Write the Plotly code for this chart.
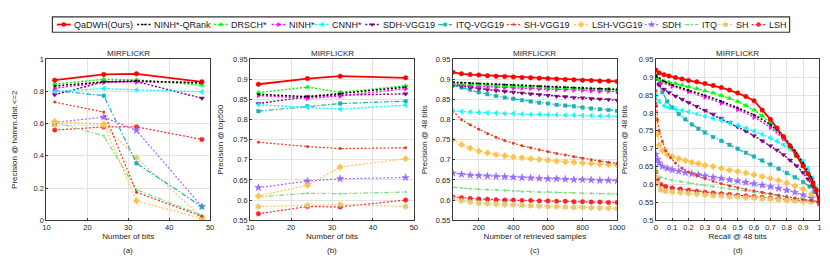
import plotly.graph_objects as go

# ---------------- DATA ----------------
METHODS = ["QaDWH(Ours)", "NINH*-QRank", "DRSCH*", "NINH*", "CNNH*", "SDH-VGG19",
           "ITQ-VGG19", "SH-VGG19", "LSH-VGG19", "SDH", "ITQ", "SH", "LSH"]

BITS = [12, 24, 32, 48]

# (a) Precision @ hamming dist <= 2
PREC_HAMM2 = {
    "QaDWH(Ours)": [0.870, 0.906, 0.910, 0.860],
    "NINH*-QRank": [0.834, 0.860, 0.866, 0.852],
    "DRSCH*":      [0.846, 0.876, 0.872, 0.840],
    "NINH*":       [0.820, 0.858, 0.860, 0.856],
    "CNNH*":       [0.800, 0.818, 0.810, 0.798],
    "SDH-VGG19":   [0.780, 0.860, 0.862, 0.758],
    "ITQ-VGG19":   [0.806, 0.774, 0.354, 0.084],
    "SH-VGG19":    [0.734, 0.672, 0.174, 0.024],
    "LSH-VGG19":   [0.612, 0.598, 0.120, 0.010],
    "SDH":         [0.608, 0.640, 0.558, 0.084],
    "ITQ":         [0.610, 0.524, 0.190, 0.030],
    "SH":          [0.590, 0.590, 0.388, 0.018],
    "LSH":         [0.560, 0.580, 0.580, 0.502],
}

# (b) Precision @ top500
PREC_TOP500 = {
    "QaDWH(Ours)": [0.888, 0.902, 0.908, 0.904],
    "NINH*-QRank": [0.863, 0.857, 0.865, 0.881],
    "DRSCH*":      [0.867, 0.881, 0.868, 0.884],
    "NINH*":       [0.860, 0.853, 0.859, 0.877],
    "CNNH*":       [0.837, 0.831, 0.826, 0.836],
    "SDH-VGG19":   [0.840, 0.857, 0.861, 0.864],
    "ITQ-VGG19":   [0.821, 0.833, 0.840, 0.846],
    "SH-VGG19":    [0.744, 0.733, 0.728, 0.730],
    "LSH-VGG19":   [0.610, 0.637, 0.682, 0.703],
    "SDH":         [0.631, 0.647, 0.653, 0.656],
    "ITQ":         [0.608, 0.617, 0.616, 0.620],
    "SH":          [0.584, 0.587, 0.589, 0.584],
    "LSH":         [0.566, 0.584, 0.583, 0.600],
}

# (c) Precision @ 48 bits vs number of retrieved samples
RETRIEVED = [50, 100, 150, 200, 250, 300, 350, 400, 450, 500,
             550, 600, 650, 700, 750, 800, 850, 900, 950, 1000]
PREC_RETRIEVED = {
    "QaDWH(Ours)": [0.918, 0.914, 0.912, 0.911, 0.909, 0.908, 0.907, 0.906, 0.905, 0.904,
                    0.903, 0.902, 0.901, 0.900, 0.899, 0.898, 0.897, 0.896, 0.896, 0.895],
    "NINH*-QRank": [0.893, 0.892, 0.891, 0.890, 0.889, 0.888, 0.887, 0.886, 0.885, 0.884,
                    0.883, 0.882, 0.881, 0.880, 0.879, 0.878, 0.877, 0.877, 0.876, 0.875],
    "DRSCH*":      [0.890, 0.889, 0.888, 0.887, 0.886, 0.885, 0.884, 0.884, 0.883, 0.882,
                    0.881, 0.880, 0.880, 0.879, 0.878, 0.878, 0.877, 0.876, 0.876, 0.875],
    "NINH*":       [0.888, 0.886, 0.884, 0.883, 0.882, 0.881, 0.880, 0.879, 0.879, 0.878,
                    0.877, 0.876, 0.875, 0.875, 0.874, 0.873, 0.872, 0.871, 0.871, 0.870],
    "CNNH*":       [0.822, 0.820, 0.819, 0.818, 0.817, 0.816, 0.815, 0.815, 0.814, 0.813,
                    0.813, 0.812, 0.812, 0.811, 0.811, 0.810, 0.810, 0.809, 0.809, 0.808],
    "SDH-VGG19":   [0.886, 0.883, 0.880, 0.877, 0.874, 0.872, 0.870, 0.868, 0.866, 0.864,
                    0.862, 0.860, 0.858, 0.857, 0.855, 0.854, 0.852, 0.851, 0.850, 0.848],
    "ITQ-VGG19":   [0.885, 0.880, 0.874, 0.868, 0.863, 0.859, 0.855, 0.852, 0.848, 0.845,
                    0.842, 0.840, 0.837, 0.835, 0.833, 0.830, 0.828, 0.826, 0.824, 0.822],
    "SH-VGG19":    [0.822, 0.800, 0.787, 0.776, 0.765, 0.756, 0.748, 0.741, 0.735, 0.730,
                    0.725, 0.720, 0.716, 0.712, 0.708, 0.704, 0.700, 0.697, 0.694, 0.691],
    "LSH-VGG19":   [0.750, 0.738, 0.729, 0.722, 0.717, 0.713, 0.710, 0.707, 0.705, 0.703,
                    0.701, 0.699, 0.697, 0.695, 0.694, 0.692, 0.691, 0.689, 0.688, 0.687],
    "SDH":         [0.667, 0.664, 0.662, 0.661, 0.660, 0.659, 0.658, 0.657, 0.656, 0.655,
                    0.654, 0.653, 0.653, 0.652, 0.651, 0.651, 0.650, 0.649, 0.649, 0.648],
    "ITQ":         [0.632, 0.630, 0.628, 0.627, 0.626, 0.625, 0.624, 0.622, 0.621, 0.621,
                    0.620, 0.620, 0.619, 0.618, 0.618, 0.617, 0.617, 0.616, 0.616, 0.615],
    "SH":          [0.603, 0.598, 0.595, 0.592, 0.591, 0.590, 0.589, 0.588, 0.587, 0.586,
                    0.585, 0.584, 0.584, 0.583, 0.582, 0.582, 0.581, 0.580, 0.580, 0.579],
    "LSH":         [0.608, 0.606, 0.604, 0.603, 0.602, 0.601, 0.600, 0.600, 0.599, 0.599,
                    0.598, 0.598, 0.597, 0.597, 0.596, 0.596, 0.595, 0.595, 0.594, 0.594],
}

# (d) Precision-recall @ 48 bits
R_TOP = [0, 0.02, 0.05, 0.08, 0.12, 0.16, 0.2, 0.25, 0.3, 0.35, 0.4, 0.45, 0.5,
         0.55, 0.6, 0.65, 0.7, 0.74, 0.78, 0.82, 0.86, 0.9, 0.93, 0.96, 0.98, 1.0]
R_ITQV = [0, 0.02, 0.04, 0.07, 0.1, 0.14, 0.18, 0.22, 0.26, 0.3, 0.35, 0.4, 0.45,
          0.5, 0.55, 0.6, 0.65, 0.7, 0.75, 0.8, 0.85, 0.9, 0.94, 0.97, 1.0]
R_SHV = [0, 0.005, 0.01, 0.02, 0.04, 0.06, 0.09, 0.12, 0.16, 0.2, 0.25, 0.3, 0.35,
         0.4, 0.45, 0.5, 0.55, 0.6, 0.65, 0.7, 0.75, 0.8, 0.85, 0.9, 0.95, 1.0]
R_LOW = [0, 0.01, 0.02, 0.04, 0.07, 0.1, 0.14, 0.18, 0.22, 0.26, 0.3, 0.35, 0.4,
         0.45, 0.5, 0.55, 0.6, 0.65, 0.7, 0.75, 0.8, 0.85, 0.9, 0.95, 1.0]
R_BASE = [0, 0.01, 0.03, 0.06, 0.1, 0.15, 0.2, 0.25, 0.3, 0.35, 0.4, 0.45, 0.5,
          0.55, 0.6, 0.65, 0.7, 0.75, 0.8, 0.85, 0.9, 0.95, 1.0]
R_QR = [0, 0.05, 0.1, 0.2, 0.3, 0.4, 0.5, 0.6, 0.7, 0.78, 0.85, 0.9, 0.95, 1.0]
R_NINH = [0, 0.03, 0.1, 0.2, 0.3, 0.4, 0.5, 0.6, 0.7, 0.78, 0.85, 0.9, 0.95, 1.0]

PR_RECALL = {
    "QaDWH(Ours)": R_TOP, "NINH*-QRank": R_QR, "DRSCH*": R_TOP, "NINH*": R_NINH,
    "CNNH*": R_TOP, "SDH-VGG19": R_TOP, "ITQ-VGG19": R_ITQV, "SH-VGG19": R_SHV,
    "LSH-VGG19": R_LOW, "SDH": R_LOW, "ITQ": R_BASE, "SH": R_BASE, "LSH": R_BASE,
}
PR_PRECISION = {
    "QaDWH(Ours)": [0.920, 0.912, 0.907, 0.903, 0.899, 0.895, 0.891, 0.887, 0.882, 0.877,
                    0.871, 0.864, 0.856, 0.846, 0.834, 0.808, 0.782, 0.758, 0.734, 0.708,
                    0.681, 0.652, 0.630, 0.605, 0.585, 0.552],
    "NINH*-QRank": [0.905, 0.888, 0.878, 0.864, 0.849, 0.833, 0.815, 0.795, 0.768, 0.735,
                    0.695, 0.660, 0.620, 0.550],
    "DRSCH*":      [0.898, 0.893, 0.889, 0.886, 0.882, 0.878, 0.873, 0.868, 0.862, 0.856,
                    0.849, 0.841, 0.832, 0.821, 0.808, 0.792, 0.772, 0.752, 0.730, 0.705,
                    0.679, 0.650, 0.628, 0.603, 0.583, 0.550],
    "NINH*":       [0.900, 0.885, 0.875, 0.860, 0.845, 0.828, 0.810, 0.788, 0.760, 0.728,
                    0.690, 0.655, 0.615, 0.548],
    "CNNH*":       [0.848, 0.832, 0.820, 0.815, 0.811, 0.807, 0.803, 0.797, 0.791, 0.785,
                    0.779, 0.772, 0.765, 0.757, 0.749, 0.740, 0.730, 0.721, 0.711, 0.699,
                    0.684, 0.665, 0.645, 0.618, 0.590, 0.550],
    "SDH-VGG19":   [0.895, 0.878, 0.866, 0.857, 0.847, 0.838, 0.829, 0.818, 0.807, 0.796,
                    0.785, 0.773, 0.761, 0.749, 0.736, 0.722, 0.708, 0.696, 0.683, 0.668,
                    0.652, 0.633, 0.615, 0.595, 0.578, 0.547],
    "ITQ-VGG19":   [0.905, 0.880, 0.858, 0.832, 0.815, 0.797, 0.782, 0.768, 0.756, 0.745,
                    0.733, 0.722, 0.711, 0.700, 0.689, 0.678, 0.667, 0.656, 0.644, 0.632,
                    0.620, 0.607, 0.594, 0.580, 0.548],
    "SH-VGG19":    [0.862, 0.820, 0.780, 0.750, 0.720, 0.695, 0.675, 0.660, 0.645, 0.635,
                    0.625, 0.616, 0.609, 0.602, 0.596, 0.591, 0.586, 0.582, 0.578, 0.574,
                    0.570, 0.566, 0.562, 0.558, 0.555, 0.550],
    "LSH-VGG19":   [0.783, 0.740, 0.710, 0.695, 0.684, 0.678, 0.672, 0.667, 0.662, 0.658,
                    0.654, 0.650, 0.645, 0.640, 0.636, 0.632, 0.627, 0.622, 0.617, 0.611,
                    0.604, 0.596, 0.587, 0.573, 0.555],
    "SDH":         [0.684, 0.670, 0.660, 0.650, 0.645, 0.641, 0.637, 0.633, 0.630, 0.627,
                    0.624, 0.620, 0.617, 0.613, 0.610, 0.606, 0.602, 0.598, 0.594, 0.589,
                    0.584, 0.578, 0.571, 0.562, 0.548],
    "ITQ":         [0.653, 0.635, 0.620, 0.616, 0.612, 0.608, 0.604, 0.600, 0.597, 0.594,
                    0.591, 0.588, 0.585, 0.582, 0.579, 0.576, 0.573, 0.570, 0.567, 0.563,
                    0.559, 0.555, 0.550],
    "SH":          [0.622, 0.600, 0.585, 0.581, 0.579, 0.577, 0.575, 0.573, 0.571, 0.569,
                    0.568, 0.566, 0.565, 0.563, 0.562, 0.560, 0.559, 0.557, 0.556, 0.554,
                    0.553, 0.551, 0.549],
    "LSH":         [0.635, 0.615, 0.600, 0.594, 0.590, 0.587, 0.584, 0.581, 0.578, 0.576,
                    0.574, 0.572, 0.570, 0.568, 0.566, 0.564, 0.562, 0.560, 0.558, 0.556,
                    0.554, 0.552, 0.550],
}

# ---------------- STYLE ----------------
DOT = "2px,1.8px"
DASHDOT = "5px,2px,1.5px,2px"
STYLE = {
    "QaDWH(Ours)": dict(color="#ff0000", dash="solid", symbol="circle", size=4.5, width=1.8),
    "NINH*-QRank": dict(color="#000000", dash=DOT, symbol="circle", size=1.5, width=1.5),
    "DRSCH*":      dict(color="#00ff00", dash=DOT, symbol="triangle-up", size=4.5, width=1.4),
    "NINH*":       dict(color="#ff00ff", dash=DOT, symbol="triangle-right", size=4.5, width=1.4),
    "CNNH*":       dict(color="#00ffff", dash=DOT, symbol="triangle-left", size=4.5, width=1.4),
    "SDH-VGG19":   dict(color="#7f007f", dash=DOT, symbol="triangle-down", size=4.5, width=1.4),
    "ITQ-VGG19":   dict(color="#17b3b3", dash=DASHDOT, symbol="square", size=3.5, width=1.2),
    "SH-VGG19":    dict(color="#e23a1e", dash=DOT, symbol="circle", size=2.5, width=1.2),
    "LSH-VGG19":   dict(color="#ffc34d", dash=DOT, symbol="diamond", size=5, width=1.2),
    "SDH":         dict(color="#9b6bff", dash=DOT, symbol="star", size=5.5, width=1.2),
    "ITQ":         dict(color="#80dc80", dash=DASHDOT, symbol="circle", size=2, width=1.2),
    "SH":          dict(color="#e6c86e", dash=DOT, symbol="hexagram", size=5, width=1.2),
    "LSH":         dict(color="#ff2222", dash=DOT, symbol="circle", size=4.5, width=1.2),
}

FONT = "Liberation Sans, Arial, Helvetica, sans-serif"
TXT = "#262626"
W, H = 830, 259

# plot boxes in pixels (left, right); shared top/bottom
BOXES = [(35.0, 201.0), (241.7, 407.7), (447.3, 614.0), (653.3, 819.3)]
YSTANDOFF = [14, 8, 6, 9]
TOP, BOT = 49.0, 215.7

PANEL_DATA = [
    (lambda m: BITS, PREC_HAMM2),
    (lambda m: BITS, PREC_TOP500),
    (lambda m: RETRIEVED, PREC_RETRIEVED),
    (lambda m: PR_RECALL[m], PR_PRECISION),
]

fig = go.Figure()

for i, (xget, ydict) in enumerate(PANEL_DATA):
    sfx = "" if i == 0 else str(i + 1)
    for m in reversed(METHODS):
        s = STYLE[m]
        fig.add_trace(go.Scatter(
            x=xget(m), y=ydict[m], mode="lines+markers", name=m, showlegend=False,
            xaxis="x" + sfx, yaxis="y" + sfx,
            line=dict(color=s["color"], dash=s["dash"], width=s["width"]),
            marker=dict(symbol=s["symbol"], size=s["size"], color=s["color"],
                        line=dict(color=s["color"], width=0.5)),
        ))

axis_common = dict(
    showgrid=True, gridcolor="#e3e3e3", gridwidth=1, zeroline=False,
    showline=True, linecolor="#3a3a3a", linewidth=1, mirror=True,
    ticks="inside", ticklen=2, tickcolor="#3a3a3a",
    tickfont=dict(size=7.5, color=TXT, family=FONT),
    fixedrange=True,
)
ydom = [1 - BOT / H, 1 - TOP / H]

XCONF = [
    dict(range=[10, 50], tickvals=[10, 20, 30, 40, 50], title="Number of bits"),
    dict(range=[10, 50], tickvals=[10, 20, 30, 40, 50], title="Number of bits"),
    dict(range=[50, 1000], tickvals=[200, 400, 600, 800, 1000], title="Number of retrieved samples"),
    dict(range=[0, 1], tickvals=[0, 0.1, 0.2, 0.3, 0.4, 0.5, 0.6, 0.7, 0.8, 0.9, 1],
         title="Recall @ 48 bits"),
]
YCONF = [
    dict(range=[0, 1], tickvals=[0, 0.2, 0.4, 0.6, 0.8, 1], title="Precision @ hamm.dist.<=2"),
    dict(range=[0.55, 0.95], tickvals=[0.55, 0.6, 0.65, 0.7, 0.75, 0.8, 0.85, 0.9, 0.95],
         title="Precision @ top500"),
    dict(range=[0.55, 0.95], tickvals=[0.55, 0.6, 0.65, 0.7, 0.75, 0.8, 0.85, 0.9, 0.95],
         title="Precision @ 48 bits"),
    dict(range=[0.5, 0.95], tickvals=[0.5, 0.55, 0.6, 0.65, 0.7, 0.75, 0.8, 0.85, 0.9, 0.95],
         title="Precision @ 48 bits"),
]

layout = dict(
    width=W, height=H, margin=dict(l=0, r=0, t=0, b=0),
    paper_bgcolor="white", plot_bgcolor="rgba(0,0,0,0)", showlegend=False,
    font=dict(family=FONT, color=TXT),
)
annotations = []
shapes = []
CAPS = ["(a)", "(b)", "(c)", "(d)"]
for i in range(4):
    sfx = "" if i == 0 else str(i + 1)
    l, r = BOXES[i]
    xc, yc = XCONF[i], YCONF[i]
    layout["xaxis" + sfx] = dict(
        axis_common, domain=[l / W, r / W], anchor="y" + sfx, range=xc["range"],
        tickvals=xc["tickvals"],
        title=dict(text=xc["title"], font=dict(size=8, color=TXT, family=FONT), standoff=2),
    )
    layout["yaxis" + sfx] = dict(
        axis_common, domain=ydom, anchor="x" + sfx, range=yc["range"],
        tickvals=yc["tickvals"],
        title=dict(text=yc["title"], font=dict(size=8, color=TXT, family=FONT),
                   standoff=YSTANDOFF[i]),
    )
    cx = (l + r) / 2 / W
    annotations.append(dict(text="MIRFLICKR", x=cx, y=1 - 43 / H, xref="paper", yref="paper",
                            showarrow=False, xanchor="center", yanchor="middle",
                            font=dict(size=8, color=TXT, family=FONT)))
    annotations.append(dict(text=CAPS[i], x=cx, y=1 - 247 / H, xref="paper", yref="paper",
                            showarrow=False, xanchor="center", yanchor="middle",
                            font=dict(size=8, color=TXT, family=FONT)))

# ---------------- custom single-row legend (top strip only) ----------------
LEG_SAMPLE_X = [45.5, 127, 205, 263.5, 307.5, 358.5, 432.5, 502, 570.5, 642, 682.5, 717, 750.5]
LEG_Y = 13.0
STRIP = 26.0
layout["xaxis5"] = dict(domain=[0, 1], range=[0, W], visible=False, fixedrange=True, anchor="y5")
layout["yaxis5"] = dict(domain=[1 - STRIP / H, 1], range=[STRIP, 0], visible=False,
                        fixedrange=True, anchor="x5")
shapes.append(dict(type="rect", xref="paper", yref="paper", x0=41 / W, x1=789 / W,
                   y0=1 - 21 / H, y1=1 - 5 / H, line=dict(color="#333333", width=1.2),
                   fillcolor="rgba(0,0,0,0)"))
for m, x0 in zip(METHODS, LEG_SAMPLE_X):
    s = STYLE[m]
    fig.add_trace(go.Scatter(
        x=[x0, x0 + 7, x0 + 14], y=[LEG_Y] * 3, mode="lines+markers", showlegend=False,
        xaxis="x5", yaxis="y5", hoverinfo="skip",
        line=dict(color=s["color"], dash=s["dash"], width=s["width"]),
        marker=dict(symbol=s["symbol"], size=s["size"], color=s["color"], opacity=[0, 1, 0]),
    ))
    annotations.append(dict(text=m, x=(x0 + 15.5) / W, y=1 - LEG_Y / H, xref="paper",
                            yref="paper", showarrow=False, xanchor="left", yanchor="middle",
                            font=dict(size=9, color="#1a1a1a", family=FONT)))

layout["annotations"] = annotations
layout["shapes"] = shapes
fig.update_layout(**layout)
fig.write_html("out.html", config={"displayModeBar": False})
